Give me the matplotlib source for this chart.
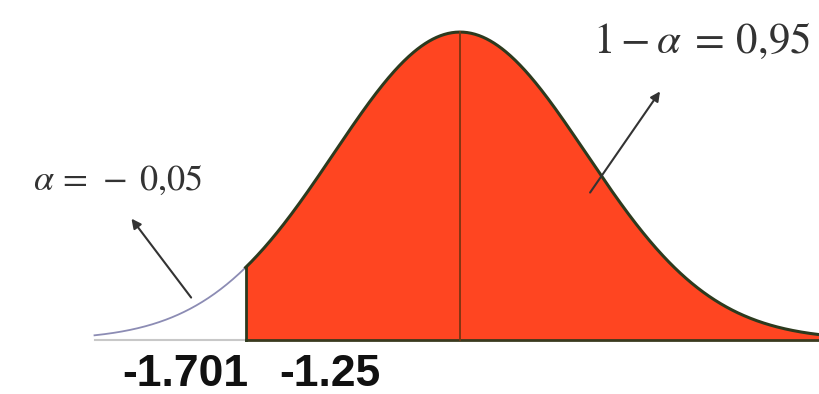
import matplotlib.pyplot as plt
import numpy as np

# nilai kritis dan label
z_krit = -1.701
label_x = [-2.18, -1.03]
label_teks = ["-1.701", "-1.25"]
z_awal, z_akhir = -2.9, 2.86

def pdf(z):
    return np.exp(-z**2 / 2) / np.sqrt(2 * np.pi)

fig = plt.figure(figsize=(8.2, 3.94), dpi=100)
ax = fig.add_axes([0, 0, 1, 1])
ax.set_xlim(-3.65, 2.857)
ax.set_ylim(-0.0701, 0.4405)
ax.axis("off")

x_kiri = np.linspace(z_awal, z_krit, 200)
x_kanan = np.linspace(z_krit, z_akhir, 600)

ax.fill_between(x_kanan, 0, pdf(x_kanan), color="#ff4521", lw=0)
ax.plot(x_kiri, pdf(x_kiri), color="#8c8cb4", lw=1.3)
ax.plot(x_kanan, pdf(x_kanan), color="#2c3a1e", lw=2.2)
ax.plot([z_awal, z_krit], [0, 0], color="#c8c8c8", lw=1.5)
ax.plot([z_krit, z_akhir], [0, 0], color="#3a3a1e", lw=2)
ax.plot([z_krit, z_krit], [0, pdf(z_krit)], color="#2c3a1e", lw=2)
ax.plot([0, 0], [0, pdf(0)], color="#7a3412", lw=1.3)

# panah dan teks
ax.annotate("", xy=(-2.62, 0.16), xytext=(-2.12, 0.052),
            arrowprops=dict(arrowstyle="-|>", color="#333333", lw=1.5, mutation_scale=14))
ax.annotate("", xy=(1.6, 0.325), xytext=(1.02, 0.188),
            arrowprops=dict(arrowstyle="-|>", color="#333333", lw=1.5, mutation_scale=14))
ax.text(-3.39, 0.207, r"$\alpha\,=\,-\;0{,}05$", fontsize=26, color="#333333",
        ha="left", va="center", math_fontfamily="stix")
ax.text(1.056, 0.387, r"$1-\alpha\;=\,0{,}95$", fontsize=31, color="#333333",
        ha="left", va="center", math_fontfamily="stix")

for xl, t in zip(label_x, label_teks):
    ax.text(xl, -0.0445, t, fontsize=32, fontweight="bold", family="Liberation Sans",
            ha="center", va="center", color="#111111")

fig.savefig("out.png", dpi=100)
